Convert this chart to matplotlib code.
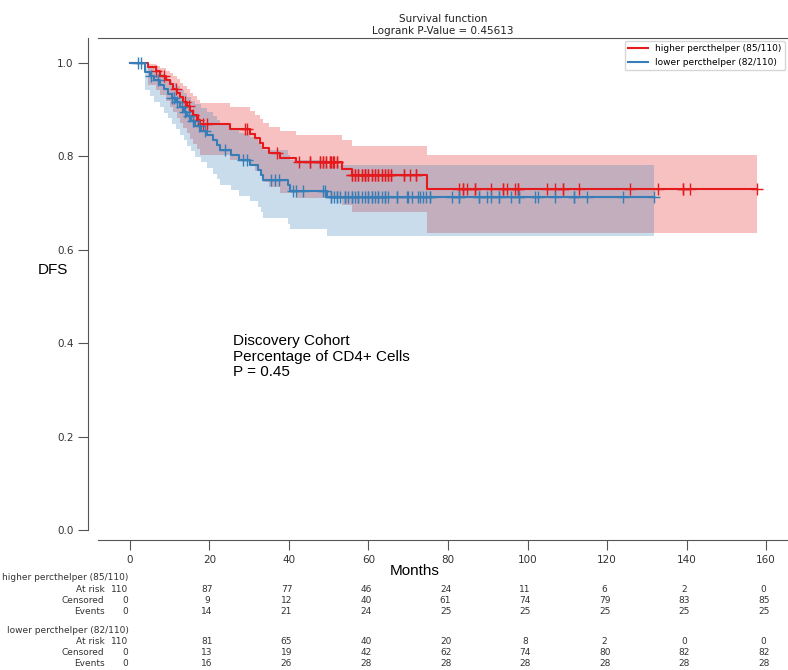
import numpy as np
import matplotlib
matplotlib.use("Agg")
import matplotlib.pyplot as plt
from matplotlib.transforms import blended_transform_factory

# event / censor times (months)
hi_events = [4.6, 6.5, 7.7, 9.1, 10.0, 10.9, 11.9, 12.6, 13.4, 14.3, 15.1, 15.9, 16.8, 17.6,
             25.2, 30.2, 31.5, 32.7, 33.5, 35.0, 37.7,
             41.9, 53.4, 55.8,
             74.7]
hi_censor = [6.7, 8.5, 11.5, 13.9, 14.8, 16.0, 17.2, 18.5, 19.5,
             28.9, 29.4, 36.9,
             42.5, 45.3, 45.3, 47.8, 47.8, 48.6, 48.6, 49.4, 49.4, 50.3, 50.3, 50.7, 51.1, 51.1,
             51.3, 52.0, 52.0, 55.9, 55.9, 56.7, 56.7, 57.5, 57.5, 58.4, 58.4, 59.2, 59.2, 59.2,
             60.0, 60.0, 60.9, 60.9, 61.7, 61.7, 62.5, 62.5, 63.4, 63.4, 64.2, 64.2, 65.0, 65.0,
             65.8, 65.8, 68.9, 68.9, 70.4, 71.9, 71.9,
             82.8, 83.8, 83.8, 84.9, 86.8, 86.8, 90.8, 93.9, 93.9, 94.8, 96.9, 97.7, 97.7,
             104.8, 106.9, 109.0, 109.0, 113.0,
             125.8, 132.8, 139.1, 139.1,
             140.9, 157.8]
lo_events = [3.8, 3.8, 5.0, 6.2, 7.5, 8.5, 9.5, 10.5, 11.5, 12.5, 13.5, 14.5, 15.5, 16.5, 18.0, 19.5,
             21.0, 22.0, 22.6, 25.5, 27.5, 30.2, 32.3, 33.1, 33.5, 39.8,
             40.3, 49.5]
lo_censor = [2.1, 2.9, 5.4, 7.0, 10.5, 11.2, 11.8, 13.0, 14.0, 15.0, 16.0, 17.5, 19.0,
             24.0, 28.5, 29.4, 35.6, 36.5, 37.5,
             41.1, 41.9, 43.6, 48.6, 49.1, 50.7, 50.7, 51.4, 52.2, 52.2, 52.8, 54.1, 54.1,
             54.9, 55.8, 55.8, 56.6, 57.4, 57.4, 58.3, 59.1, 59.9, 59.9,
             60.8, 60.8, 61.6, 62.5, 62.5, 63.3, 64.2, 64.2, 65.0, 67.1, 67.1, 69.8, 70.0,
             70.9, 72.5, 73.0, 73.8, 74.6, 75.5, 75.5,
             80.9, 82.7, 82.7, 87.8, 87.8, 89.9, 90.7, 92.9, 92.9, 95.8, 97.9, 97.9,
             101.9, 102.7, 106.9, 111.8, 111.8, 114.9,
             123.9, 131.9]

groups = ["higher percthelper (85/110)", "lower percthelper (82/110)"]
colors = ["#e41a1c", "#377eb8"]

# at-risk table
table_times = [0, 20, 40, 60, 80, 100, 120, 140, 160]
hi_at_risk = [110, 87, 77, 46, 24, 11, 6, 2, 0]
hi_censored = [0, 9, 12, 40, 61, 74, 79, 83, 85]
hi_evts = [0, 14, 21, 24, 25, 25, 25, 25, 25]
lo_at_risk = [110, 81, 65, 40, 20, 8, 2, 0, 0]
lo_censored = [0, 13, 19, 42, 62, 74, 80, 82, 82]
lo_evts = [0, 16, 26, 28, 28, 28, 28, 28, 28]


def km(events, censor, z=1.645):
    ev = np.array(events)
    ce = np.array(censor)
    alltimes = np.concatenate([ev, ce])
    s, var = 1.0, 0.0
    out_t, out_s, out_lo, out_hi = [0.0], [1.0], [1.0], [1.0]
    for t in np.unique(alltimes):
        n = np.sum(alltimes >= t)
        d = np.sum(ev == t)
        if d > 0:
            s *= 1 - d / n
            var += d / (n * (n - d))
        if s < 1:
            v = np.log(s)
            a = np.log(-v)
            b = z * np.sqrt(var) / abs(v)
            lo, hi = np.exp(-np.exp(a + b)), np.exp(-np.exp(a - b))
        else:
            lo, hi = 1.0, 1.0
        out_t.append(t); out_s.append(s); out_lo.append(lo); out_hi.append(hi)
    return np.array(out_t), np.array(out_s), np.array(out_lo), np.array(out_hi)


W, H = 788, 670
fig = plt.figure(figsize=(W / 100, H / 100), dpi=100)
ax = fig.add_axes([98 / W, 1 - 540 / H, 1 - 98 / W, (540 - 38) / H])

for ev, ce, col, lab in [(hi_events, hi_censor, colors[0], groups[0]),
                          (lo_events, lo_censor, colors[1], groups[1])]:
    t, s, lo, hi = km(ev, ce)
    ax.fill_between(t, lo, hi, step="post", color=col, alpha=0.27, linewidth=0)
    ax.step(t, s, where="post", color=col, lw=1.5, label=lab)
    cs = np.array(ce)
    ax.plot(cs, s[np.searchsorted(t, cs, side="right") - 1],
            ls="none", marker="+", ms=9, mew=1, color=col)

ax.set_xlim(-8, 165.5)
ax.set_ylim(-0.0214, 1.0535)
ax.set_xticks(table_times)
ax.set_yticks([0.0, 0.2, 0.4, 0.6, 0.8, 1.0])
ax.tick_params(axis="both", length=7, color="#555555", labelsize=7.5, labelcolor="#333333")
ax.spines["right"].set_visible(False)
ax.spines["left"].set_position(("outward", 7.2))
ax.spines["left"].set_bounds(0, 1.0535)
for sp in ax.spines.values():
    sp.set_color("#555555")
ax.set_title("Survival function\nLogrank P-Value = 0.45613", fontsize=7.5, pad=3, color="#222222")

leg = ax.legend(loc="upper right", fontsize=6.5, handlelength=2.2, borderaxespad=0.3,
                frameon=True, fancybox=True)
leg.get_frame().set_edgecolor("#cccccc")

fig.text(53 / W, 1 - 270 / H, "DFS", fontsize=11, family="Liberation Sans", ha="center", va="center")
fig.text(415 / W, 1 - 571 / H, "Months", fontsize=11, family="Liberation Sans", ha="center", va="center")
ax.text(26, 0.42, "Discovery Cohort\nPercentage of CD4+ Cells\nP = 0.45", fontsize=11,
        family="Liberation Sans", ha="left", va="top", linespacing=1.15)

# at-risk table under the axis (x in data units, y in figure pixels)
tr = blended_transform_factory(ax.transData, fig.transFigure)
px2x = lambda px: (px - 130) / 3.975
tstyle = dict(transform=tr, va="center", fontsize=6.5, color="#333333", clip_on=False)
blocks = [(groups[0], [hi_at_risk, hi_censored, hi_evts], [578, 589.5, 600.5, 611.5]),
          (groups[1], [lo_at_risk, lo_censored, lo_evts], [630.5, 641.5, 652.5, 663.5])]
for name, vals, ys in blocks:
    ax.text(px2x(129), 1 - ys[0] / H, name, ha="right", **tstyle)
    for rl, row, y in zip(["At risk", "Censored", "Events"], vals, ys[1:]):
        ax.text(px2x(104.5), 1 - y / H, rl, ha="right", **tstyle)
        for i, (tt, v) in enumerate(zip(table_times, row)):
            if i == 0:
                ax.text(px2x(128), 1 - y / H, str(v), ha="right", **tstyle)
            else:
                ax.text(tt - 0.6, 1 - y / H, str(v), ha="center", **tstyle)

fig.savefig("out.png", dpi=100)
